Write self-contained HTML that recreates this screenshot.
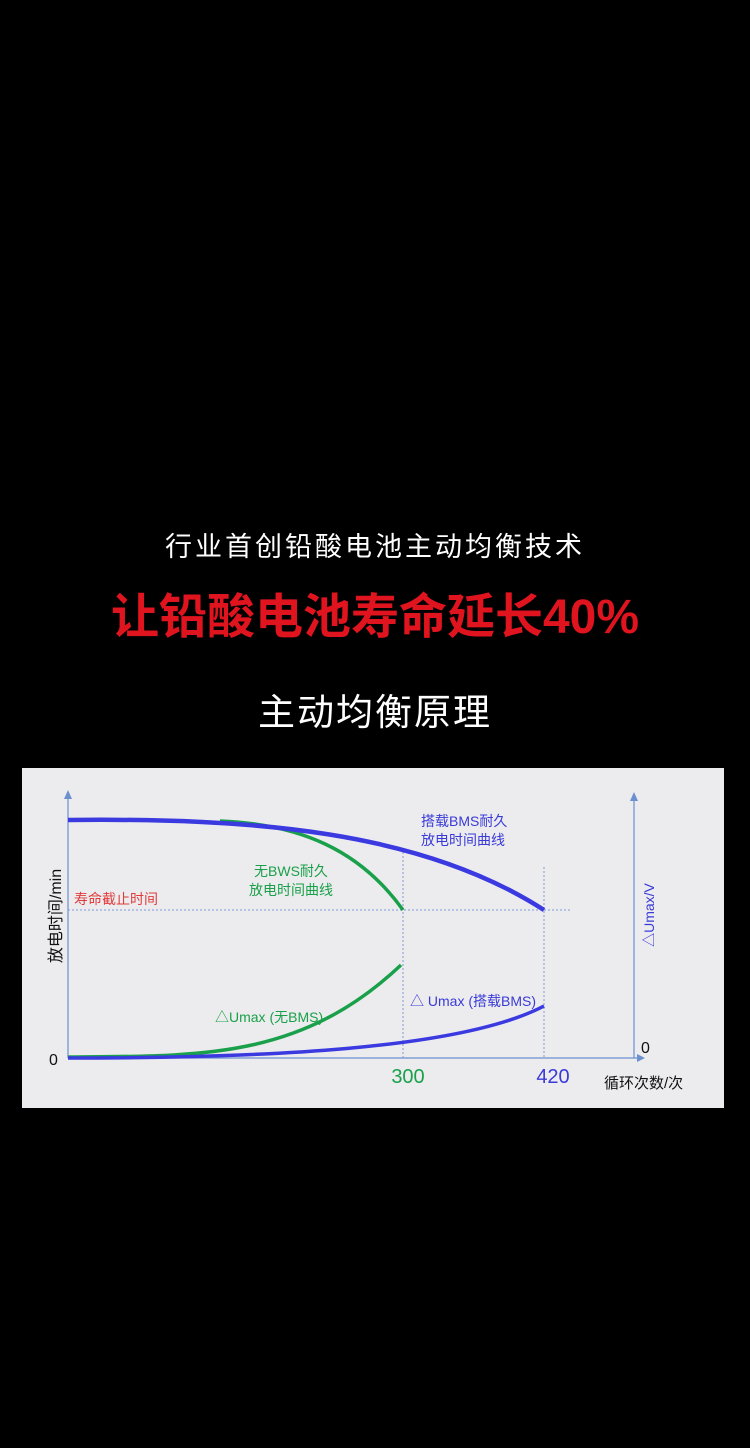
<!DOCTYPE html>
<html><head><meta charset="utf-8"><style>
html,body{margin:0;padding:0;background:#000;width:750px;height:1448px;overflow:hidden;font-family:"Liberation Sans","Noto Sans CJK SC",sans-serif}
.t{position:absolute;left:0;width:750px;text-align:center;white-space:nowrap}
</style></head><body>
<div class="t" style="top:525px;font-size:27px;color:#fff;letter-spacing:3px">行业首创铅酸电池主动均衡技术</div>
<div class="t" style="top:577px;font-size:48px;color:#e0141e;font-weight:bold;letter-spacing:0px">让铅酸电池寿命延长40%</div>
<div class="t" style="top:682px;font-size:37px;color:#fff;letter-spacing:2px">主动均衡原理</div>
<svg style="position:absolute;left:0;top:0" width="750" height="1448" font-family="Liberation Sans, Noto Sans CJK SC, sans-serif">
<rect x="22" y="768" width="702" height="340" fill="#ececee"/>
<g stroke="#6b8fcf" stroke-width="1.2" fill="none">
<line x1="68" y1="1058" x2="68" y2="795"/>
<line x1="68" y1="1058" x2="640" y2="1058"/>
<line x1="634" y1="1058" x2="634" y2="797"/>
</g>
<g fill="#6b8fcf">
<polygon points="68,790 64,799 72,799"/>
<polygon points="634,792 630,801 638,801"/>
<polygon points="645,1058 637,1054 637,1062"/>
</g>
<g stroke="#7a9ad4" stroke-width="1" stroke-dasharray="2,2" fill="none">
<line x1="68" y1="910" x2="572" y2="910"/>
<line x1="403" y1="852" x2="403" y2="1058"/>
<line x1="544" y1="867" x2="544" y2="1058"/>
</g>
<path d="M220,821 C300,824 360,850 403,910" stroke="#1aa04a" stroke-width="3.5" fill="none"/>
<path d="M68,820 C250,818 420,830 544,910" stroke="#3a3ae0" stroke-width="4.5" fill="none"/>
<path d="M68,1057 C200,1056 300,1060 401,965" stroke="#1aa04a" stroke-width="3.5" fill="none"/>
<path d="M68,1058 C260,1058 460,1050 544,1006" stroke="#3a3ae0" stroke-width="3.5" fill="none"/>
<g font-size="14" fill="#3a3ad8">
<text x="421" y="826">搭载BMS耐久</text>
<text x="421" y="845">放电时间曲线</text>
<text x="410" y="1006">△ Umax (搭载BMS)</text>
</g>
<g font-size="14" fill="#1aa04a">
<text x="291" y="876" text-anchor="middle">无BWS耐久</text>
<text x="291" y="895" text-anchor="middle">放电时间曲线</text>
<text x="215" y="1022">△Umax (无BMS)</text>
<text x="408" y="1083" text-anchor="middle" font-size="20">300</text>
</g>
<text x="74" y="904" font-size="14" fill="#e03a3a">寿命截止时间</text>
<text x="553" y="1083" text-anchor="middle" font-size="20" fill="#3a3ad8">420</text>
<text x="604" y="1088" font-size="15" fill="#111">循环次数/次</text>
<text x="49" y="1065" font-size="16" fill="#111">0</text>
<text x="641" y="1053" font-size="16" fill="#111">0</text>
<text transform="translate(61,916) rotate(-90)" text-anchor="middle" font-size="16" fill="#111">放电时间/min</text>
<text transform="translate(654,915) rotate(-90)" text-anchor="middle" font-size="14" fill="#3a3ad8">△Umax/V</text>
</svg>
</body></html>
